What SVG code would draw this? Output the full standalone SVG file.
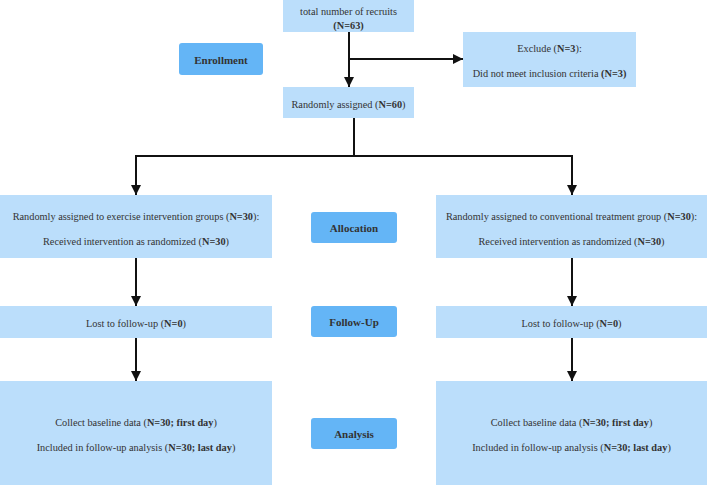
<svg xmlns="http://www.w3.org/2000/svg" width="708" height="487" viewBox="0 0 708 487">
<defs>
<style>
.box{fill:#BBDEFB;}
.lbl{fill:#64B5F6;}
text{font-family:'Liberation Serif','Times New Roman','DejaVu Serif',serif;font-size:10.3px;fill:#333;text-anchor:middle;dominant-baseline:central;}
.b{font-weight:bold;}
.h{font-weight:bold;font-size:11px;}
.ln{stroke:#111;stroke-width:2;fill:none;}
</style>
<marker id="arr" viewBox="0 0 10 10" refX="10" refY="5" markerWidth="10" markerHeight="10" markerUnits="userSpaceOnUse" orient="auto">
<path d="M0,0 L10,5 L0,10 Z" fill="#111"/>
</marker>
</defs>
<rect width="708" height="487" fill="#fff"/>
<g id="connectors">
<path class="ln" d="M349,32 V87" marker-end="url(#arr)"/>
<path class="ln" d="M349,59 H463" marker-end="url(#arr)"/>
<path class="ln" d="M354,118 V156 H136 V195" marker-end="url(#arr)"/>
<path class="ln" d="M354,156 H572 V195" marker-end="url(#arr)"/>
<path class="ln" d="M136,258 V306" marker-end="url(#arr)"/>
<path class="ln" d="M572,258 V306" marker-end="url(#arr)"/>
<path class="ln" d="M136,338 V381" marker-end="url(#arr)"/>
<path class="ln" d="M572,338 V381" marker-end="url(#arr)"/>
</g>
<g id="recruits">
<rect class="box" x="283" y="0" width="131" height="32"/>
<text x="348.5" y="11">total number of recruits</text>
<text x="348.5" y="25"><tspan class="b">(N=63)</tspan></text>
</g>
<g id="enrollment">
<rect class="lbl" x="179" y="43" width="84" height="32" rx="3"/>
<text class="h" x="221" y="59.5">Enrollment</text>
</g>
<g id="exclude">
<rect class="box" x="463" y="32" width="173" height="55"/>
<text x="549.5" y="48">Exclude (<tspan class="b">N=3</tspan>):</text>
<text x="549.5" y="73">Did not meet inclusion criteria <tspan class="b">(N=3)</tspan></text>
</g>
<g id="randomized">
<rect class="box" x="283" y="87" width="131" height="31"/>
<text x="348.5" y="104">Randomly assigned (<tspan class="b">N=60</tspan>)</text>
</g>
<g id="exercise">
<rect class="box" x="0" y="195" width="272" height="63"/>
<text x="136" y="216">Randomly assigned to exercise intervention groups (<tspan class="b">N=30</tspan>):</text>
<text x="136" y="241">Received intervention as randomized (<tspan class="b">N=30</tspan>)</text>
</g>
<g id="allocation">
<rect class="lbl" x="311" y="212" width="86" height="31" rx="3"/>
<text class="h" x="354" y="228">Allocation</text>
</g>
<g id="conventional">
<rect class="box" x="436" y="195" width="271" height="63"/>
<text x="571.5" y="216">Randomly assigned to conventional treatment group (<tspan class="b">N=30</tspan>):</text>
<text x="571.5" y="241">Received intervention as randomized (<tspan class="b">N=30</tspan>)</text>
</g>
<g id="lost-left">
<rect class="box" x="0" y="306" width="272" height="32"/>
<text x="136" y="323">Lost to follow-up (<tspan class="b">N=0</tspan>)</text>
</g>
<g id="followup">
<rect class="lbl" x="311" y="306" width="86" height="31" rx="3"/>
<text class="h" x="354" y="322">Follow-Up</text>
</g>
<g id="lost-right">
<rect class="box" x="436" y="306" width="271" height="32"/>
<text x="571.5" y="323">Lost to follow-up (<tspan class="b">N=0</tspan>)</text>
</g>
<g id="analysis-left">
<rect class="box" x="0" y="381" width="272" height="104"/>
<text x="136" y="422">Collect baseline data (<tspan class="b">N=30; first day</tspan>)</text>
<text x="136" y="447">Included in follow-up analysis (<tspan class="b">N=30; last day</tspan>)</text>
</g>
<g id="analysis">
<rect class="lbl" x="311" y="418" width="86" height="31" rx="3"/>
<text class="h" x="354" y="434">Analysis</text>
</g>
<g id="analysis-right">
<rect class="box" x="436" y="381" width="271" height="104"/>
<text x="571.5" y="422">Collect baseline data (<tspan class="b">N=30; first day</tspan>)</text>
<text x="571.5" y="447">Included in follow-up analysis (<tspan class="b">N=30; last day</tspan>)</text>
</g>
</svg>
